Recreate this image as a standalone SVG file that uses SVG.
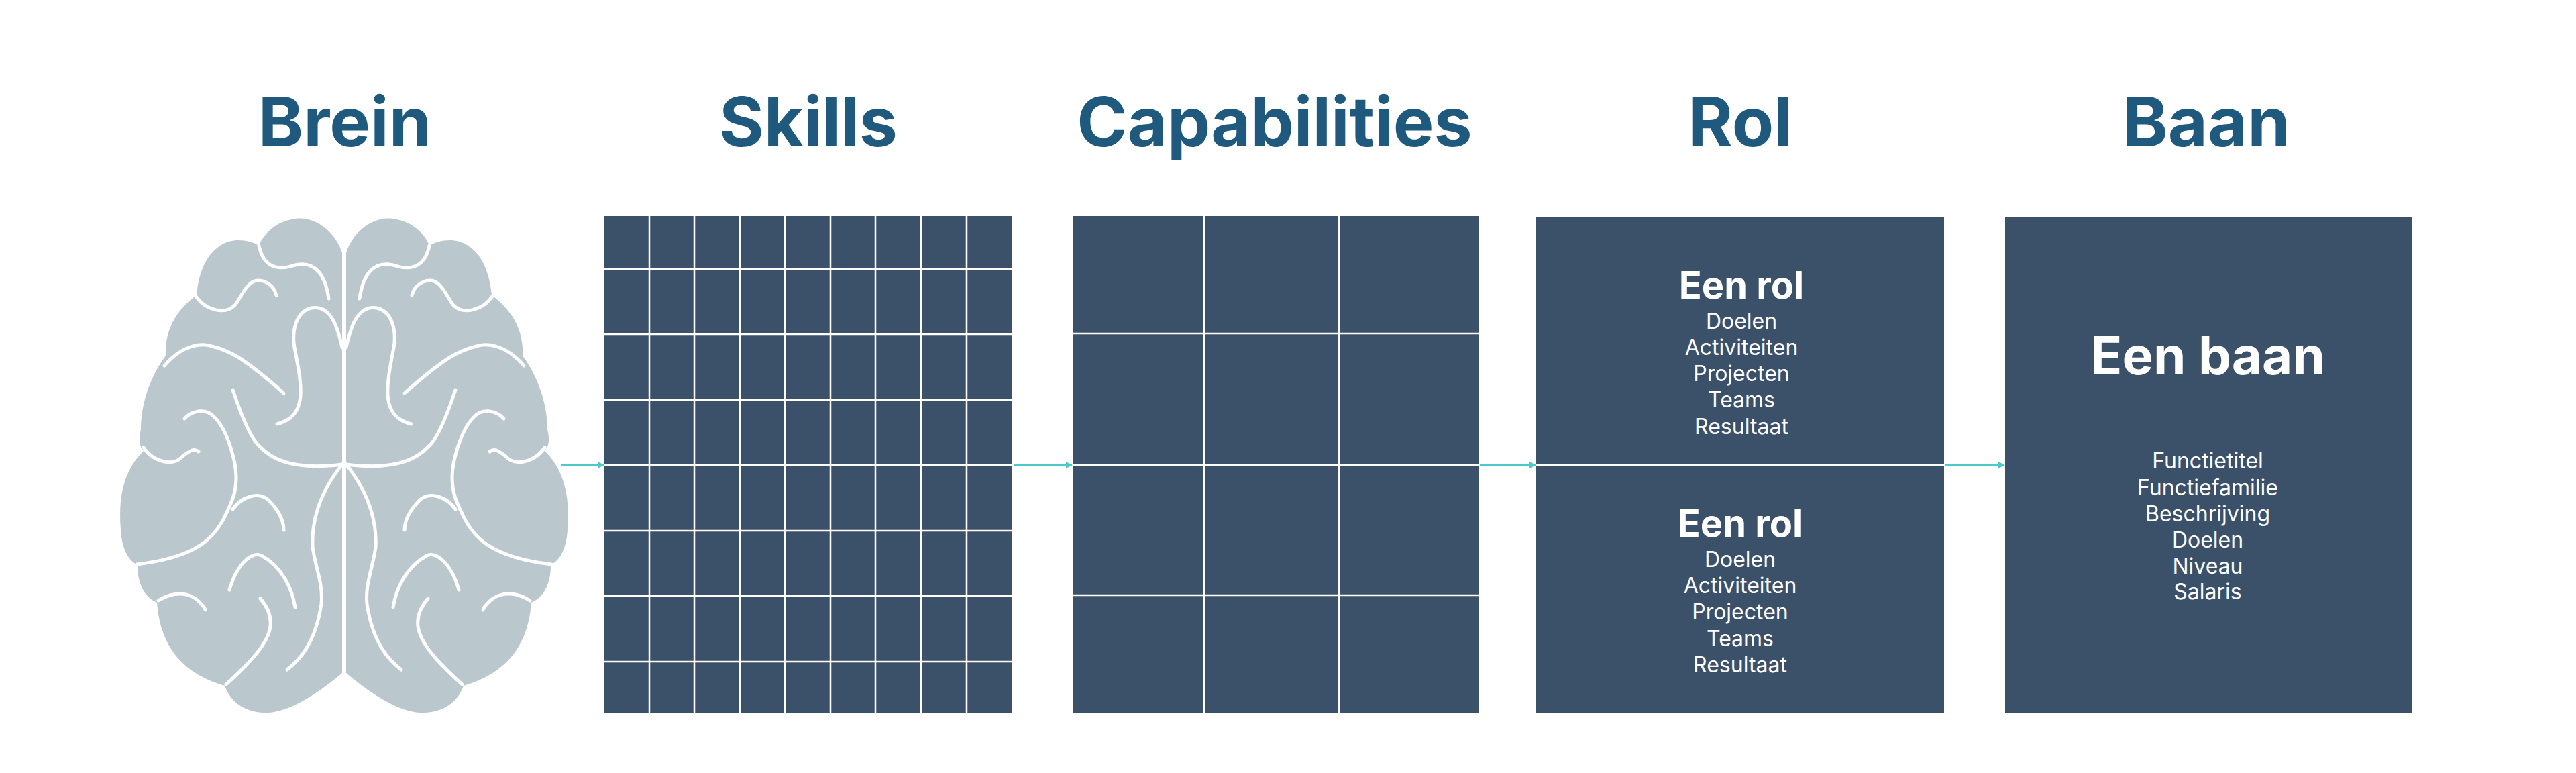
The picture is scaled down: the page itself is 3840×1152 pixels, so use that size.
<svg xmlns="http://www.w3.org/2000/svg" width="3840" height="1152" viewBox="0 0 3840 1152">
<defs>
<style>
.title{font-family:Inter,"Noto Sans",sans-serif;font-weight:700;font-size:102px;fill:#1f5a7e;text-anchor:middle}
.box{fill:#3b5069}
.grid{stroke:#ffffff;stroke-width:2.5;fill:none}
.h{font-family:Inter,"Noto Sans",sans-serif;font-weight:700;fill:#ffffff;text-anchor:middle}
.it{font-family:Inter,"Noto Sans",sans-serif;font-size:32px;fill:#ffffff;text-anchor:middle}
.conn{stroke:#4cc9cc;stroke-width:3;fill:none}
.sul{stroke:#ffffff;stroke-width:5;fill:none;stroke-linecap:round}
</style>
<marker id="ah" markerWidth="10" markerHeight="10" refX="9" refY="5" orient="auto" markerUnits="userSpaceOnUse" viewBox="0 0 10 10"><path d="M0 0 L10 5 L0 10 Z" fill="#4cc9cc"/></marker>
</defs>
<rect width="3840" height="1152" fill="#ffffff"/>
<text class="title" x="514" y="218">Brein</text>
<text class="title" x="1205" y="218">Skills</text>
<text class="title" x="1900" y="218">Capabilities</text>
<text class="title" x="2594" y="218">Rol</text>
<text class="title" x="3289" y="218">Baan</text>

<g id="brein">
<g id="left-hemi">
<path d="M510 377 C500 345,470 322,440 326 C410 330,392 350,386 366 C370 356,345 355,330 365 C305 380,296 410,293 440 C265 460,245 490,247 530 C225 560,210 600,210 640 C205 660,210 667,214 672 C185 700,176 740,180 790 C182 820,192 835,205 842 C205 870,215 890,234 898 C238 950,260 1000,335 1022 C345 1050,370 1063,400 1062 C440 1060,490 1020,510 1003 Z" fill="#bac8ce"/>
<path class="sul" d="M386 366 C392 395,410 405,440 395 C470 388,485 410,490 445"/>
<path class="sul" d="M291 440 C305 462,335 470,350 455 C362 440,370 410,395 420 C405 424,410 432,412 440"/>
<path class="sul" d="M510 518 C500 470,485 455,464 459 C440 465,435 495,439 518 C450 575,460 620,413 632"/>
<path class="sul" d="M245 545 C270 515,300 510,316 516 C340 522,360 530,423 586"/>
<path class="sul" d="M347 581 C360 620,375 656,388 666 C410 690,449 700,510 692"/>
<path class="sul" d="M275 624 C285 612,306 608,318 620 C340 640,352 690,352 711 C352 740,342 754,335 770 C320 800,296 830,204 841"/>
<path class="sul" d="M214 667 C230 690,260 695,272 680 C285 670,290 668,296 673"/>
<path class="sul" d="M347 759 C360 740,385 732,400 745 C415 760,423 776,423 790"/>
<path class="sul" d="M510 692 C480 730,464 770,466 815 C470 846,482 870,479 900 C470 960,445 985,428 998"/>
<path class="sul" d="M342 879 C355 835,378 822,390 828 C420 845,435 875,440 905"/>
<path class="sul" d="M236 895 C260 880,285 882,300 900 C305 905,306 909,306 909"/>
<path class="sul" d="M337 1020 C370 990,400 960,403 933 C405 915,395 900,388 892"/>
</g>
<use href="#left-hemi" transform="translate(1026,0) scale(-1,1)"/>
<line x1="513" y1="377" x2="513" y2="1003" stroke="#ffffff" stroke-width="6"/>
</g>

<g id="skills">
<rect class="box" x="901" y="322" width="608" height="741"/>
<path class="grid" d="M968 322V1063M1035 322V1063M1103 322V1063M1170 322V1063M1238 322V1063M1305 322V1063M1373 322V1063M1441 322V1063M901 401H1509M901 498H1509M901 596H1509M901 693H1509M901 791H1509M901 888H1509M901 986H1509"/>
</g>

<g id="capabilities">
<rect class="box" x="1599" y="322" width="605" height="741"/>
<path class="grid" d="M1795 322V1063M1996 322V1063M1599 497H2204M1599 693H2204M1599 887H2204"/>
</g>

<g id="rol">
<rect class="box" x="2290" y="323" width="608" height="740"/>
<line class="grid" x1="2290" y1="693" x2="2898" y2="693"/>
<text class="h" x="2596" y="445" font-size="56">Een rol</text>
<text class="it" x="2596" y="490">Doelen</text>
<text class="it" x="2596" y="529">Activiteiten</text>
<text class="it" x="2596" y="568">Projecten</text>
<text class="it" x="2596" y="607">Teams</text>
<text class="it" x="2596" y="647">Resultaat</text>
<text class="h" x="2594" y="800" font-size="56">Een rol</text>
<text class="it" x="2594" y="845">Doelen</text>
<text class="it" x="2594" y="884">Activiteiten</text>
<text class="it" x="2594" y="923">Projecten</text>
<text class="it" x="2594" y="963">Teams</text>
<text class="it" x="2594" y="1002">Resultaat</text>
</g>

<g id="baan">
<rect class="box" x="2989" y="323" width="606" height="740"/>
<text class="h" x="3291" y="558" font-size="78">Een baan</text>
<text class="it" x="3291" y="698">Functietitel</text>
<text class="it" x="3291" y="738">Functiefamilie</text>
<text class="it" x="3291" y="777">Beschrijving</text>
<text class="it" x="3291" y="816">Doelen</text>
<text class="it" x="3291" y="855">Niveau</text>
<text class="it" x="3291" y="893">Salaris</text>
</g>

<g id="connectors">
<line class="conn" x1="836" y1="693" x2="900" y2="693" marker-end="url(#ah)"/>
<line class="conn" x1="1511" y1="693" x2="1598" y2="693" marker-end="url(#ah)"/>
<line class="conn" x1="2206" y1="693" x2="2289" y2="693" marker-end="url(#ah)"/>
<line class="conn" x1="2900" y1="693" x2="2988" y2="693" marker-end="url(#ah)"/>
</g>
</svg>
